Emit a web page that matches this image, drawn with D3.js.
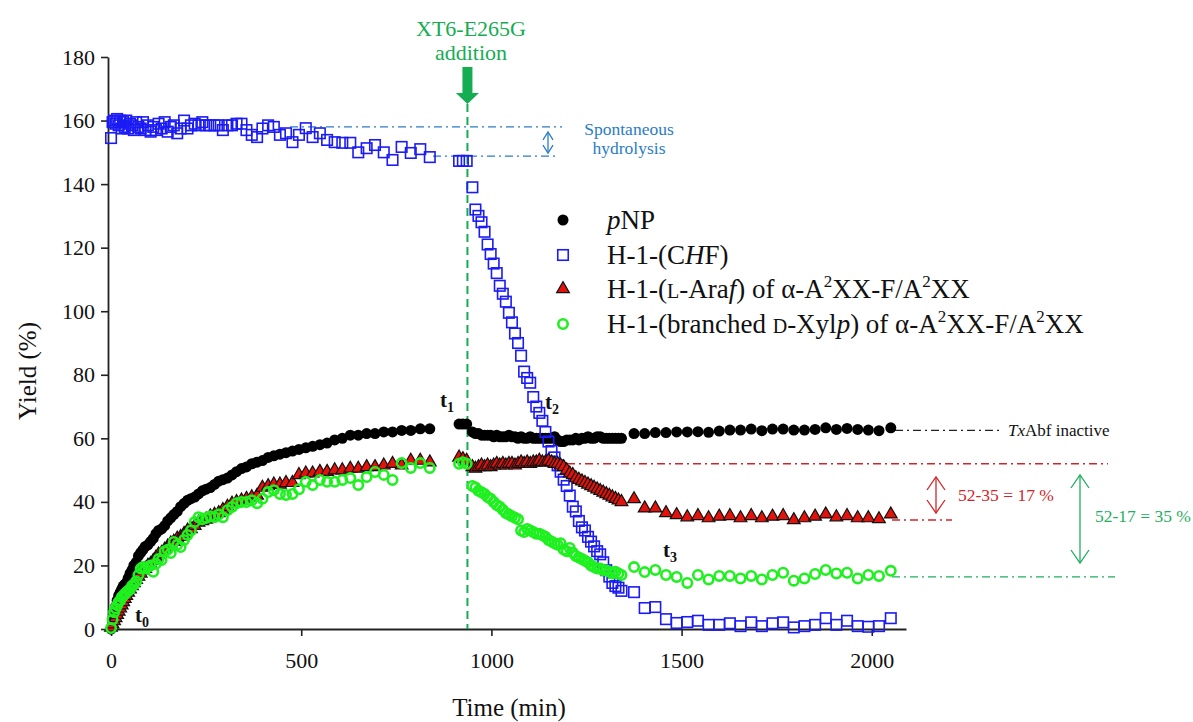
<!DOCTYPE html>
<html><head><meta charset="utf-8">
<script src="https://cdn.jsdelivr.net/npm/d3@7"></script>
<style>
body{margin:0;background:#fff}
svg{display:block}
text{font-family:"Liberation Serif","Times New Roman",serif}
</style>
</head><body>
<svg id="c" width="1193" height="722"></svg>
<script>
// ---------------- DATA ----------------
const xTicks = [0, 500, 1000, 1500, 2000];
const yTicks = [0, 20, 40, 60, 80, 100, 120, 140, 160, 180];

// sampling times (min)
const timesPre = [0,4,8,12,16,20,24,28,32,36, 40,45,50,55,60,66,72,78,84,90,
  97,104,111,118,125,133,141,149,157,165, 174,183,192,201,210,220,230,240,250,261,
  272,283,294,306,318,330,343,356,370,384, 398,413,428,444,460,477,494,512,530,549,
  568,588,608,629,650,672,694,717,740,764, 788,813,838];
const timesT1 = [915, 925, 935];
const timesPost = [950,958,966,974,982,990,998,1006,1014,1022, 1030,1038,1046,1054,1062,1070,1078,1086,1094,1102,
  1110,1118,1126,1134,1142,1150,1158,1166,1174,1182, 1190,1198,1206,1214,1222,1230,1238,1246,1254,1262,
  1270,1278,1286,1294,1302,1310,1318,1326,1334,1342];
const timesLate = [1375,1403,1431,1459,1487,1515,1543,1571,1599,1627,1655,1683,1711,1739,1767,1795,1823,1851,1879,1907,1935,1963,1991,2019,2050];

// pNP (%)
const pnpPre = [0,2.5,5,7,9,10.5,11.5,12.5,13.5,14, 14.5,16,17.5,18.5,20,21,23,24,25,26,
  26.5,27.5,28.5,30,31,31.5,32.5,34,35,36, 37,38.5,39.5,40.5,41,41.5,42.5,43.5,44,44.5,
  45.5,46.5,47,47.5,48.5,49.5,50.5,51,52,52.5, 53,54,54.5,55,55.5,56,56.5,57,57.5,58,
  58.5,59.5,60,61,61,61.5,61.5,62,62,62.5, 62.5,63,63];
const pnpT1 = [64.5, 64.5, 64.5];
const pnpPost = [62,61.5,61.5,61,61,61,61,60.5,61,60.5, 60.5,60.5,61,60.5,60.5,60,60.5,60,60,60.5,
  60,60,60,60,60,60,60,60.5,59.5,59, 59,59.5,59.5,59.5,60,59.5,60,60,60.5,60,
  60,60.5,60.5,60,60,60,60,60,60,60];
const pnpLate = [61.5,61.5,61.8,61.8,62,62,62.1,61.9,62.3,62.6,62.6,62.9,62.4,62.9,62.9,62.6,62.6,62.8,63.3,62.8,63.1,62.8,62.6,62.4,63.3];

// H-1-(CHF)
const chfPre = [154.5,159.5,160,159,160.5,158.5,160,157.5,159.5,158, 160,157.5,159,158.5,157,159.5,158,157.5,159.5,157,
  158.5,156.5,158,157,159,157.5,159.5,156.5,158,158.5, 156,157.5,160,157.5,158.5,159,158.5,159.5,158.5,158.5,
  158.5,158.5,157,158.5,158.5,159,159,157,155.5,154.8, 157.5,158.5,158,155.5,156,153.2,155.5,157.6,154.8,156,
  153.9,153.2,153,153,150,151.3,152.3,150,147.6,151.7, 149.8,151,148.5];
const chfT1 = [147.3, 147.3, 147.3];
const chfPost = [139,132,130,128,125,121,118,115,112,108, 105.5,103,99.5,96.5,93,90,86,81,79,77.5,
  73,70,68,65.5,62,59,56,54,51.5,49.5, 47,45,42,38.5,37,34,32,31,29,27.5,
  26,24.5,23.5,21,18.5,16.5,14.5,13.5,13,12];
const chfLate = [11.6,6.6,6.9,3.1,1.9,2.2,2.6,1.3,1.3,1.8,0.9,2.1,0.9,1.8,2.1,0.5,0.9,1.3,3.4,1.3,2.6,0.9,0.7,0.9,3.4];

// H-1-(L-Araf)
const arafPre = [0.5,1.5,2.5,3.5,4.5,5.5,6.5,7.5,8.5,9.5, 10.5,11.5,12.5,13.5,14.5,15.5,16.5,17.5,18.5,19,
  20,20.5,21.5,22.5,23.5,24,25,26,27,27.5, 28.5,29,30,31,31.5,32.5,33.5,34,34.5,35.5,
  36,36.5,37.5,38.5,39.5,40,40.5,41,41.5,42, 44.5,45,45.5,45.5,46,46,48.5,49,49,49.5,
  49.5,50,50,50.5,50.5,51,51,51.5,52,51.5, 53,53,52.5];
const arafT1 = [54, 53.5, 53];
const arafPost = [51,50.5,51,51.5,51,51.5,51,51.5,52,51.5, 52,51.5,52,52,51.5,52,52.5,52,52.5,52,
  52.5,52.5,53,52.5,52.5,53,52.5,52,52,51.5, 51,50,49,48.5,47.5,47,46.5,46,45.5,45,
  44.5,44,43.5,43,42.5,42,41.5,41,40.5,40];
const arafLate = [40.9,38,38,36.5,35.9,35.2,35.6,34.9,35.4,35.6,34.9,35.6,34.9,35.4,35.6,34.3,34.9,35.4,36.1,35.2,35.6,34.9,34.9,34.6,36.1];

// H-1-(branched D-Xylp)
const xylPre = [0.3,3,5.3,6.5,7.5,8.5,9,10,10.5,11, 11.5,12,12.5,13.5,14,15,17,19,19.5,19,
  19.5,20,18,20.5,22,21.7,24.5,24.9,23.9,27.4, 26.5,25.8,28,29.6,31,33.7,35.2,34.5,34.9,35.5,
  35.2,36,35.2,37.4,38.4,39.6,40,40,40.5,39.6, 41,43.1,43.7,42.5,42.2,42.5,44,46.3,45.3,46.9,
  46.3,46.3,46.9,47.5,45.3,47.8,49.4,48.5,46.9,52.2, 50.7,52.2,50.7];
const xylT1 = [52, 52.5, 52];
const xylPost = [45,44.5,43.5,43,42.5,41.5,41,40,39,38.5, 37.5,36.5,36,35.5,35,34.5,31,30.5,31.5,31,
  30.5,30,30,29.5,29,28,27.5,27,26.5,27, 25,24.5,25.5,24,23,22.5,22,21.5,21,20,
  19.5,19,19,18.5,18.5,18,17.5,18,17.5,17];
const xylLate = [19.5,17.9,18.6,17,16.4,14.5,17,15.6,16.7,16.7,15.9,16.7,15.6,17,17.7,15.2,15.9,17.3,18.6,17.5,17.7,15.9,17,16.7,18.3];

// annotation reference levels (%)
const additionTime = 937;
const spontUpper = 158, spontLower = 148.8;
const inactiveLevel = 62.5;
const arafStart = 52, arafEnd = 34.3;
const xylEnd = 16.4;

// ---------------- CHART ----------------
const times = [...timesPre, ...timesT1, ...timesPost, ...timesLate];
const zip = vals => times.map((t, i) => ({t, v: vals[i]}));
const pnp = zip([...pnpPre, ...pnpT1, ...pnpPost, ...pnpLate]);
const chf = zip([...chfPre, ...chfT1, ...chfPost, ...chfLate]);
const araf = zip([...arafPre, ...arafT1, ...arafPost, ...arafLate]);
const xyl = zip([...xylPre, ...xylT1, ...xylPost, ...xylLate]);

const svg = d3.select('#c');
const x = d3.scaleLinear().domain([-8, 2090]).range([108, 906]);
const y = d3.scaleLinear().domain([0, 180]).range([629, 57]);

const COL = {
  blue: '#1b1bf5', red: '#e3120b', green: '#1ff01f',
  addGreen: '#14ad52', spont: '#2a7cc7', annRed: '#d0262b', annGreen: '#1fae5e'
};

// axes
const gx = svg.append('g').attr('transform', 'translate(0,629)')
  .call(d3.axisBottom(x).tickValues(xTicks).tickSize(7).tickSizeOuter(0).tickPadding(16).tickFormat(d3.format('d')));
const gy = svg.append('g').attr('transform', 'translate(108,0)')
  .call(d3.axisLeft(y).tickValues(yTicks).tickSize(7).tickSizeOuter(0).tickPadding(6).tickFormat(d3.format('d')));
[gx, gy].forEach(g => {
  g.select('.domain').attr('stroke', '#222').attr('stroke-width', 1.8);
  g.selectAll('.tick line').attr('stroke', '#222').attr('stroke-width', 1.6);
  g.selectAll('.tick text').attr('font-family', '"Liberation Serif", serif')
    .attr('font-size', 22).attr('fill', '#111');
});

svg.append('text').attr('x', 509).attr('y', 716).attr('text-anchor', 'middle')
  .attr('font-size', 25).attr('fill', '#111').text('Time (min)');
svg.append('text').attr('transform', 'translate(36,371) rotate(-90)').attr('text-anchor', 'middle')
  .attr('font-size', 25).attr('fill', '#111').text('Yield (%)');

// helpers
function dashDot(x1, x2, yy, color) {
  svg.append('line').attr('x1', x1).attr('x2', x2).attr('y1', yy).attr('y2', yy)
    .attr('stroke', color).attr('stroke-width', 1.4).attr('stroke-dasharray', '8,4,2,4');
}
function dblArrow(xp, y1, y2, color, hw, hh) {
  const g = svg.append('g').attr('stroke', color).attr('stroke-width', 1.3).attr('fill', 'none');
  g.append('line').attr('x1', xp).attr('x2', xp).attr('y1', y1).attr('y2', y2);
  g.append('path').attr('d', `M${xp-hw},${y1+hh}L${xp},${y1}L${xp+hw},${y1+hh}`);
  g.append('path').attr('d', `M${xp-hw},${y2-hh}L${xp},${y2}L${xp+hw},${y2-hh}`);
}

// addition marker
const xa = x(additionTime);
svg.append('line').attr('x1', xa).attr('x2', xa).attr('y1', 104).attr('y2', 629)
  .attr('stroke', COL.addGreen).attr('stroke-width', 2).attr('stroke-dasharray', '8,5');
svg.append('path')
  .attr('d', `M${xa-5},67L${xa+5},67L${xa+5},93L${xa+11.5},93L${xa},104L${xa-11.5},93L${xa-5},93Z`)
  .attr('fill', COL.addGreen);
svg.append('text').attr('x', 471).attr('y', 36).attr('text-anchor', 'middle')
  .attr('font-size', 22).attr('fill', COL.addGreen).text('XT6-E265G');
svg.append('text').attr('x', 471).attr('y', 60).attr('text-anchor', 'middle')
  .attr('font-size', 22).attr('fill', COL.addGreen).text('addition');

// spontaneous hydrolysis
dashDot(290, 562, y(spontUpper), COL.spont);
dashDot(433, 557, y(spontLower), COL.spont);
dblArrow(548, y(spontUpper) + 5, y(spontLower) - 3, COL.spont, 5, 8);
svg.append('text').attr('x', 629).attr('y', 135).attr('text-anchor', 'middle')
  .attr('font-size', 17.5).attr('fill', COL.spont).text('Spontaneous');
svg.append('text').attr('x', 629).attr('y', 154).attr('text-anchor', 'middle')
  .attr('font-size', 17.5).attr('fill', COL.spont).text('hydrolysis');

// TxAbf inactive
dashDot(895, 1000, y(inactiveLevel), '#222');
const tx = svg.append('text').attr('x', 1008).attr('y', 436).attr('font-size', 17).attr('fill', '#111');
tx.append('tspan').attr('font-style', 'italic').text('Tx');
tx.append('tspan').text('Abf inactive');

// red / green differences
dashDot(567, 1108, y(arafStart), COL.annRed);
dashDot(892, 952, y(arafEnd), COL.annRed);
dblArrow(936, 477, 513, COL.annRed, 9, 13);
svg.append('text').attr('x', 958).attr('y', 501).attr('font-size', 17.5).attr('fill', COL.annRed).text('52-35 = 17 %');
dashDot(892, 1115, y(xylEnd), COL.annGreen);
dblArrow(1080, 475, 563, COL.annGreen, 9, 13);
svg.append('text').attr('x', 1095).attr('y', 522).attr('font-size', 17.5).attr('fill', COL.annGreen).text('52-17 = 35 %');

// series marks
const sq = 10.5;
const rDot = 5.5, rRing = 4.7;
svg.append('g').selectAll('circle').data(pnp).join('circle')
  .attr('cx', d => x(d.t)).attr('cy', d => y(d.v)).attr('r', rDot).attr('fill', '#000');
svg.append('g').selectAll('rect').data(chf).join('rect')
  .attr('x', d => x(d.t) - sq / 2).attr('y', d => y(d.v) - sq / 2).attr('width', sq).attr('height', sq)
  .attr('fill', 'none').attr('stroke', COL.blue).attr('stroke-width', 1.6);
const tri = d3.symbol(d3.symbolTriangle, 70);
svg.append('g').selectAll('path').data(araf).join('path')
  .attr('d', tri).attr('transform', d => `translate(${x(d.t)},${y(d.v)})`)
  .attr('fill', COL.red).attr('stroke', '#111').attr('stroke-width', 1.2);
svg.append('g').selectAll('circle').data(xyl).join('circle')
  .attr('cx', d => x(d.t)).attr('cy', d => y(d.v)).attr('r', rRing)
  .attr('fill', 'none').attr('stroke', COL.green).attr('stroke-width', 2.6);

// time labels
function tLabel(xp, yp, sub) {
  const t = svg.append('text').attr('x', xp).attr('y', yp).attr('font-size', 21)
    .attr('font-weight', 'bold').attr('fill', '#111');
  t.append('tspan').text('t');
  t.append('tspan').attr('font-size', 14).attr('dy', 5).text(sub);
}
tLabel(135, 622, '0');
tLabel(440, 407, '1');
tLabel(545, 409, '2');
tLabel(663, 557, '3');

// legend
const lx = 563, tx0 = 607;
const rows = [220, 255, 289, 324];
svg.append('circle').attr('cx', lx).attr('cy', rows[0]).attr('r', rDot).attr('fill', '#000');
svg.append('rect').attr('x', lx - sq / 2).attr('y', rows[1] - sq / 2).attr('width', sq).attr('height', sq)
  .attr('fill', 'none').attr('stroke', COL.blue).attr('stroke-width', 1.6);
svg.append('path').attr('d', tri).attr('transform', `translate(${lx},${rows[2]})`)
  .attr('fill', COL.red).attr('stroke', '#111').attr('stroke-width', 1.2);
svg.append('circle').attr('cx', lx).attr('cy', rows[3]).attr('r', rRing)
  .attr('fill', 'none').attr('stroke', COL.green).attr('stroke-width', 2.6);

function legendText(row, parts) {
  const t = svg.append('text').attr('x', tx0).attr('y', row + 9).attr('font-size', 27).attr('fill', '#111');
  let shift = 0;
  parts.forEach(p => {
    const s = t.append('tspan').text(p.s);
    if (p.it) s.attr('font-style', 'italic');
    if (p.sc) s.attr('font-size', 20);
    if (p.sup) { s.attr('font-size', 17).attr('dy', -11); shift = 11; }
    else if (shift) { s.attr('dy', shift); shift = 0; }
  });
}
legendText(rows[0], [{s: 'p', it: 1}, {s: 'NP'}]);
legendText(rows[1], [{s: 'H-1-(C'}, {s: 'H', it: 1}, {s: 'F)'}]);
legendText(rows[2], [{s: 'H-1-('}, {s: 'L', sc: 1}, {s: '-Ara'}, {s: 'f', it: 1}, {s: ') of α-A'},
  {s: '2', sup: 1}, {s: 'XX-F/A'}, {s: '2', sup: 1}, {s: 'XX'}]);
legendText(rows[3], [{s: 'H-1-(branched '}, {s: 'D', sc: 1}, {s: '-Xyl'}, {s: 'p', it: 1}, {s: ') of α-A'},
  {s: '2', sup: 1}, {s: 'XX-F/A'}, {s: '2', sup: 1}, {s: 'XX'}]);
</script>
</body></html>
